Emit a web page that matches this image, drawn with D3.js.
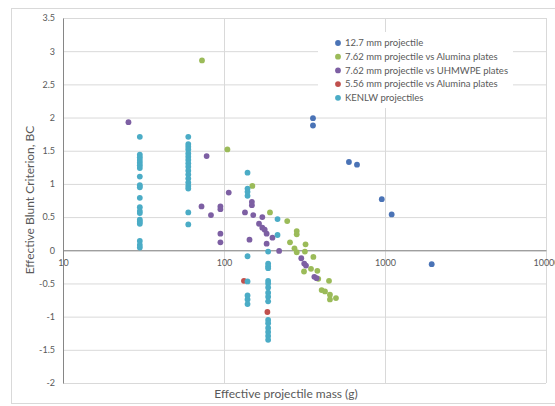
<!DOCTYPE html>
<html>
<head>
<meta charset="utf-8">
<script src="https://cdn.jsdelivr.net/npm/d3@7"></script>
<style>
  body { margin: 0; background: #fff; }
  text { font-family: Lato, "Open Sans", sans-serif; fill: #595959; }
</style>
</head>
<body>
<div id="chart"></div>
<script>
// Series names and colours (legend order)
var seriesNames = ["12.7 mm projectile", "7.62 mm projectile vs Alumina plates",
  "7.62 mm projectile vs UHMWPE plates", "5.56 mm projectile vs Alumina plates", "KENLW projectiles"];
var seriesColors = ["#4a73b6", "#9bbb59", "#7d5fa3", "#c0504d", "#4bacc6"];

// 12.7 mm projectile
var mass127 = [357, 357, 597, 670, 955, 1100, 1950];
var bc127 = [1.99, 1.88, 1.33, 1.29, 0.77, 0.54, -0.21];

// 7.62 mm vs Alumina
var mass762A = [73, 105, 150, 193, 247, 283, 283, 257, 321, 274, 283, 318, 359, 314, 347, 380, 385, 449, 404, 424, 455, 455, 496];
var bc762A = [2.86, 1.52, 0.97, 0.57, 0.44, 0.29, 0.24, 0.12, 0.09, 0.03, -0.03, -0.02, -0.10, -0.32, -0.28, -0.31, -0.43, -0.46, -0.60, -0.62, -0.67, -0.74, -0.72];

// 7.62 mm vs UHMWPE
var mass762U = [25.5, 78, 107, 72.5, 83, 95, 95, 95, 95, 135, 149, 149, 152, 173, 165, 173, 179, 184, 200, 144, 184, 220, 302, 315, 323, 364, 376];
var bc762U = [1.93, 1.42, 0.87, 0.66, 0.53, 0.66, 0.62, 0.25, 0.12, 0.57, 0.73, 0.68, 0.53, 0.50, 0.40, 0.34, 0.31, 0.25, 0.19, 0.16, 0.10, -0.01, -0.12, -0.20, -0.23, -0.40, -0.42];

// 5.56 mm vs Alumina
var mass556 = [133, 186];
var bc556 = [-0.46, -0.93];

// KENLW projectiles
var massK = [30, 30, 30, 30, 30, 30, 30, 30, 30, 30, 30, 30, 30, 30, 30, 30, 30, 30, 30, 30,
  60, 60, 60, 60, 60, 60, 60, 60, 60, 60, 60, 60, 60, 60, 60, 60, 60,
  140, 140, 140, 140, 140, 140, 140, 140, 140,
  188, 188, 188, 188, 188, 188, 188, 188, 188, 188, 188, 188, 188, 188, 188, 188,
  215, 215];
var bcK = [1.71, 1.44, 1.40, 1.36, 1.32, 1.28, 1.24, 1.11, 0.98, 0.95, 0.79, 0.65, 0.59, 0.56, 0.46, 0.43, 0.40, 0.14, 0.08, 0.04,
  1.71, 1.60, 1.56, 1.52, 1.46, 1.41, 1.36, 1.31, 1.26, 1.20, 1.14, 1.08, 1.02, 0.97, 0.93, 0.57, 0.39,
  1.17, 0.93, 0.88, 0.82, -0.09, -0.47, -0.68, -0.74, -0.81,
  -0.02, -0.20, -0.24, -0.27, -0.46, -0.50, -0.56, -0.64, -0.70, -0.77, -1.05, -1.10, -1.17, -1.23, -1.29, -1.35,
  0.47, 0.23];

var xTicks = [10, 100, 1000, 10000];
var yTicks = [-2, -1.5, -1, -0.5, 0, 0.5, 1, 1.5, 2, 2.5, 3, 3.5];

var series = [
  { x: mass127, y: bc127 },
  { x: mass762A, y: bc762A },
  { x: mass762U, y: bc762U },
  { x: mass556, y: bc556 },
  { x: massK, y: bcK }
];

var svgWidth = 555;
var svgHeight = 406;

var margin = { top: 18, right: 9, bottom: 23, left: 63 };
var chartWidth = svgWidth - margin.left - margin.right;   // 483
var chartHeight = svgHeight - margin.top - margin.bottom; // 365

var svg = d3.select("#chart")
  .append("svg")
  .attr("width", svgWidth)
  .attr("height", svgHeight);

// chart area border
svg.append("rect")
  .attr("x", 11.5)
  .attr("y", 8.5)
  .attr("width", 550)
  .attr("height", 395)
  .attr("fill", "#fff")
  .attr("stroke", "#d9d9d9");

var chartGroup = svg.append("g")
  .attr("transform", `translate(${margin.left}, ${margin.top})`);

var xScale = d3.scaleLog()
  .domain([10, 10000])
  .range([0, chartWidth]);

var yScale = d3.scaleLinear()
  .domain([-2, 3.5])
  .range([chartHeight, 0]);

// horizontal gridlines
chartGroup.append("g")
  .call(d3.axisLeft(yScale).tickValues(yTicks).tickSize(-chartWidth).tickFormat(""))
  .call(g => g.select(".domain").remove())
  .selectAll("line")
  .attr("stroke", "#d9d9d9");

// vertical gridlines
chartGroup.append("g")
  .attr("transform", `translate(0, ${chartHeight})`)
  .call(d3.axisBottom(xScale).tickValues(xTicks.slice(1)).tickSize(-chartHeight).tickFormat(""))
  .call(g => g.select(".domain").remove())
  .selectAll("line")
  .attr("stroke", "#d9d9d9");

// y axis with labels
var yAxis = chartGroup.append("g")
  .call(d3.axisLeft(yScale).tickValues(yTicks).tickSize(0).tickPadding(8)
    .tickFormat(d => String(d)));
yAxis.select(".domain").attr("stroke", "#868686");
yAxis.selectAll("text")
  .style("font-size", "9px")
  .attr("fill", "#595959");

// x axis crossing at y = 0
var xAxis = chartGroup.append("g")
  .attr("transform", `translate(0, ${yScale(0)})`)
  .call(d3.axisBottom(xScale).tickValues(xTicks).tickSize(0).tickPadding(9)
    .tickFormat(d3.format("d")));
xAxis.select(".domain").attr("stroke", "#868686");
xAxis.selectAll("text")
  .style("font-size", "9px")
  .attr("fill", "#595959");

// points
series.forEach(function(s, i) {
  var pts = s.x.map((m, j) => ({ m: m, bc: s.y[j] }));
  chartGroup.append("g")
    .selectAll("circle")
    .data(pts)
    .enter()
    .append("circle")
    .attr("cx", d => xScale(d.m))
    .attr("cy", d => yScale(d.bc))
    .attr("r", 2.9)
    .attr("fill", seriesColors[i]);
});

// legend
var legend = chartGroup.append("g")
  .attr("transform", "translate(255, 14)");

legend.append("rect")
  .attr("x", 0)
  .attr("y", 0)
  .attr("width", 195)
  .attr("height", 76)
  .attr("fill", "#fff");

seriesNames.forEach(function(name, i) {
  var row = legend.append("g")
    .attr("transform", `translate(0, ${11 + i * 13.7})`);
  row.append("circle")
    .attr("cx", 20)
    .attr("cy", 0)
    .attr("r", 2.9)
    .attr("fill", seriesColors[i]);
  row.append("text")
    .attr("x", 27)
    .attr("y", 3.3)
    .style("font-size", "9.5px")
    .text(name);
});

// axis titles
svg.append("text")
  .attr("x", 286)
  .attr("y", 398)
  .attr("text-anchor", "middle")
  .style("font-size", "12px")
  .text("Effective projectile mass (g)");

svg.append("text")
  .attr("transform", "rotate(-90)")
  .attr("x", -200)
  .attr("y", 34)
  .attr("text-anchor", "middle")
  .style("font-size", "12px")
  .text("Effective Blunt Criterion, BC");
</script>
</body>
</html>
